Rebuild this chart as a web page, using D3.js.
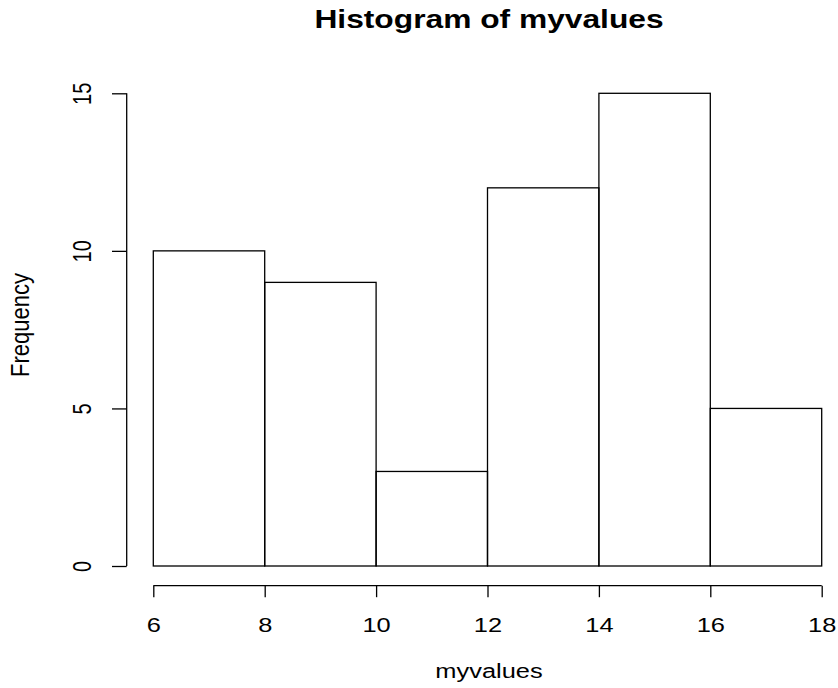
<!DOCTYPE html>
<html><head><meta charset="utf-8">
<script src="https://cdn.jsdelivr.net/npm/d3@7"></script>
<style>body{margin:0;background:#fff}svg{display:block}text{font-family:"Liberation Sans",Arial,sans-serif;fill:#000}</style>
</head><body>
<script>
const binStarts = [6, 8, 10, 12, 14, 16];
const binEnds = [8, 10, 12, 14, 16, 18];
const counts = [10, 9, 3, 12, 15, 5];
const xTicks = [6, 8, 10, 12, 14, 16, 18];
const yTicks = [0, 5, 10, 15];
const title = "Histogram of myvalues";
const xLabel = "myvalues";
const yLabel = "Frequency";

const W = 838, H = 688;
const SX = 1.27; // horizontal stretch of the original raster
const FONT = "Liberation Sans, Arial, sans-serif";
const svg = d3.select("body").append("svg").attr("width", W).attr("height", H);
const x = d3.scaleLinear().domain([6, 18]).range([153.3, 821.7]);
const y = d3.scaleLinear().domain([0, 15]).range([566, 93.3]);

const bins = binStarts.map((s, i) => ({x0: s, x1: binEnds[i], n: counts[i]}));
svg.append("g").selectAll("rect").data(bins).join("rect")
  .attr("x", d => x(d.x0)).attr("y", d => y(d.n))
  .attr("width", d => x(d.x1) - x(d.x0)).attr("height", d => y(0) - y(d.n))
  .attr("fill", "none").attr("stroke", "#000").attr("stroke-width", 1.3);

const axisY0 = 585.7;
const xa = svg.append("g").attr("transform", `translate(0,${axisY0})`)
  .call(d3.axisBottom(x).tickValues(xTicks).tickSize(11.5).tickFormat(d3.format("d")));
xa.select(".domain").attr("d", `M${x(6)},0H${x(18)}`).attr("stroke-width", 1.3);
xa.selectAll(".tick line").attr("stroke-width", 1.3);
xa.selectAll(".tick text").attr("y", null).attr("dy", null)
  .attr("transform", `translate(0,${632 - axisY0}) scale(${SX},1)`)
  .attr("font-size", 20).attr("font-family", FONT);

const axisX0 = 126.7;
const ya = svg.append("g").attr("transform", `translate(${axisX0},0)`)
  .call(d3.axisLeft(y).tickValues(yTicks).tickSize(14.7).tickFormat(d3.format("d")));
ya.select(".domain").attr("d", `M0,${y(0)}V${y(15)}`).attr("stroke-width", 1.3);
ya.selectAll(".tick line").attr("stroke-width", 1.3);
ya.selectAll(".tick text").attr("x", null).attr("dy", null)
  .attr("transform", `translate(${91 - axisX0},0) rotate(-90) scale(1,${SX})`)
  .attr("text-anchor", "middle")
  .attr("font-size", 20).attr("font-family", FONT);

svg.append("text").attr("text-anchor", "middle")
  .attr("transform", `translate(489,28) scale(${SX},1)`)
  .attr("font-size", 25).attr("font-weight", "bold").text(title);
svg.append("text").attr("text-anchor", "middle")
  .attr("transform", `translate(489,678) scale(${SX},1)`)
  .attr("font-size", 20).text(xLabel);
svg.append("text").attr("text-anchor", "middle")
  .attr("transform", `translate(29,325) rotate(-90) scale(1.1,${SX})`)
  .attr("font-size", 20).text(yLabel);
</script>
</body></html>
